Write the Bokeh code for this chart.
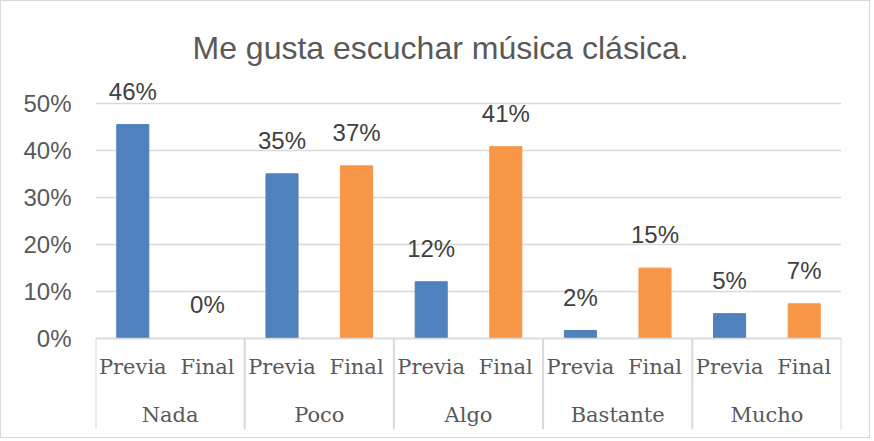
from bokeh.plotting import figure
from bokeh.models import (ColumnDataSource, FactorRange, Range1d, FixedTicker,
                          PrintfTickFormatter, LabelSet, CategoricalAxis)
from bokeh.core.properties import value
from bokeh.embed import file_html
from bokeh.resources import INLINE

title = "Me gusta escuchar música clásica."
groups = ["Nada", "Poco", "Algo", "Bastante", "Mucho"]
phases = ["Previa", "Final"]
previa = [45.6, 35.1, 12.1, 1.7, 5.3]
final = [0.0, 36.8, 40.9, 15.0, 7.4]
y_ticks = [0, 10, 20, 30, 40, 50]

BLUE = "#4F81BD"
ORANGE = "#F79646"
GRID = "#d9d9d9"
Y_MIN = -19.4   # room below the zero line for the category labels
Y_MAX = 55

factors = []
vals = []
colors = []
for g, a, b in zip(groups, previa, final):
    factors += [(g, phases[0]), (g, phases[1])]
    vals += [a, b]
    colors += [BLUE, ORANGE]
labels = [f"{round(v)}%" for v in vals]

src = ColumnDataSource(dict(x=factors, top=vals, color=colors, label=labels))

x_range = FactorRange(*factors, factor_padding=0, group_padding=0, range_padding=0)
p = figure(x_range=x_range, y_range=Range1d(Y_MIN, Y_MAX), width=870, height=438,
           output_backend="svg", toolbar_location=None,
           min_border_left=94, min_border_right=30, min_border_top=79, min_border_bottom=10)
p.styles = {"border": "1px solid #d9d9d9"}
p.outline_line_color = None
p.extra_x_ranges = {"groups": FactorRange(*groups, factor_padding=0, range_padding=0)}

p.vbar(x="x", top="top", width=0.43, color="color", source=src)

p.add_layout(LabelSet(x="x", y="top", text="label", source=src, text_align="center",
                      text_baseline="alphabetic", y_offset=25,
                      text_font=value("Liberation Sans"), text_font_size=value("24px"),
                      text_color="#404040"))

# group separators below the axis
n_sub = len(phases)
bounds = [n_sub * i for i in range(len(groups) + 1)]
p.segment(x0=bounds, y0=[0] * len(bounds), x1=bounds, y1=[Y_MIN] * len(bounds),
          line_color=GRID, line_width=2)

p.title.text = title
p.title.align = "left"
p.title.offset = 97
p.title.text_font = "Liberation Sans"
p.title.text_font_size = "32px"
p.title.text_font_style = "normal"
p.title.text_color = "#595959"
p.title.standoff = 30

p.yaxis.ticker = FixedTicker(ticks=y_ticks)
p.yaxis.formatter = PrintfTickFormatter(format="%d%%")
p.yaxis.axis_line_color = None
p.yaxis.major_tick_line_color = None
p.yaxis.minor_tick_line_color = None
p.yaxis.major_label_standoff = 18
p.yaxis.major_label_text_font = "Liberation Sans"
p.yaxis.major_label_text_font_size = "24px"
p.yaxis.major_label_text_color = "#595959"

p.xaxis.fixed_location = 0
p.xaxis.axis_line_color = GRID
p.xaxis.axis_line_width = 1.5
p.xaxis.major_tick_line_color = None
p.xaxis.major_label_standoff = 11
p.xaxis.major_label_text_font = "DejaVu Serif"
p.xaxis.major_label_text_font_size = "21px"
p.xaxis.major_label_text_color = "#595959"
p.xaxis.group_text_alpha = 0
p.xaxis.separator_line_color = None

gax = CategoricalAxis(x_range_name="groups", fixed_location=0,
                      axis_line_color=None, major_tick_line_color=None,
                      minor_tick_line_color=None, major_label_standoff=59,
                      major_label_text_font="DejaVu Serif",
                      major_label_text_font_size="21px",
                      major_label_text_color="#595959")
p.add_layout(gax, "below")

p.xgrid.grid_line_color = None
p.ygrid.grid_line_color = GRID
p.ygrid.grid_line_width = 1.5

open("out.html", "w").write(file_html(p, INLINE))
